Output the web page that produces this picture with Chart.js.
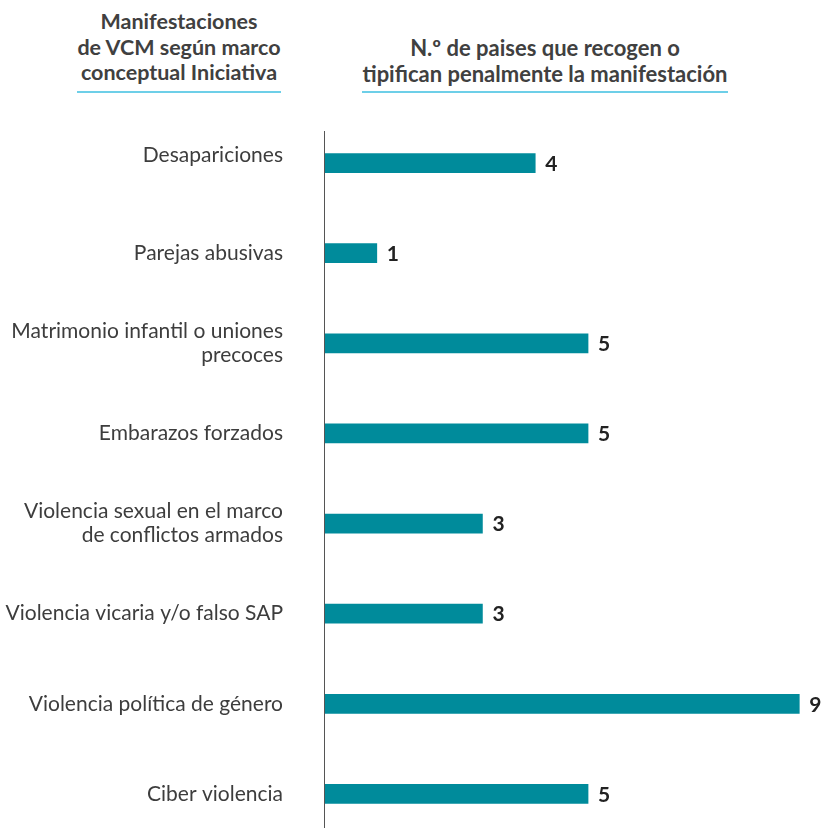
<!DOCTYPE html>
<html>
<head>
<meta charset="utf-8">
<script src="https://cdn.jsdelivr.net/npm/chart.js@4/dist/chart.umd.min.js"></script>
<style>
  html, body { margin: 0; padding: 0; background: #fff; overflow: hidden; }
  body { width: 822px; height: 828px; position: relative; font-family: Lato, "Open Sans", sans-serif; }
  .head { position: absolute; width: 440px; text-align: center; color: #404040; font-weight: bold; font-size: 22px; line-height: 25.5px; }
  .head span { display: inline-block; padding-bottom: 5px; border-bottom: 2px solid #6dcfe8; }
  #chart { position: absolute; left: 0; top: 0; }
</style>
</head>
<body>
<div class="head" style="left:-41px; top:9px; font-size:21.5px;"><span>Manifestaciones<br>de VCM según marco<br>conceptual Iniciativa</span></div>
<div class="head" style="left:325px; top:35px;"><span>N.º de paises que recogen o<br>tipifican penalmente la manifestación</span></div>
<canvas id="chart" width="822" height="888"></canvas>
<script>
// categorías (cada elemento = líneas de la etiqueta)
const CATEGORIES = [
  ['Desapariciones'],
  ['Parejas abusivas'],
  ['Matrimonio infantil o uniones', 'precoces'],
  ['Embarazos forzados'],
  ['Violencia sexual en el marco', 'de conflictos armados'],
  ['Violencia vicaria y/o falso SAP'],
  ['Violencia política de género'],
  ['Ciber violencia']
];

// n.º de países
const COUNTRIES = [4, 1, 5, 5, 3, 3, 9, 5];

const BAR_COLOR = '#008b9b';

// números al final de cada barra
const valueLabels = {
  id: 'valueLabels',
  afterDatasetsDraw(chart) {
    const ctx = chart.ctx;
    const meta = chart.getDatasetMeta(0);
    ctx.save();
    ctx.font = 'bold 21px Lato';
    ctx.fillStyle = '#222';
    ctx.textAlign = 'left';
    ctx.textBaseline = 'middle';
    meta.data.forEach((bar, i) => {
      ctx.fillText(String(COUNTRIES[i]), bar.x + 10, bar.y + 1);
    });
    ctx.restore();
  }
};

// eje vertical (empieza un poco por debajo del borde superior)
const axisLine = {
  id: 'axisLine',
  afterDatasetsDraw(chart) {
    const ctx = chart.ctx;
    const x = Math.round(chart.scales.x.getPixelForValue(0)) + 0.5;
    ctx.save();
    ctx.strokeStyle = '#555';
    ctx.lineWidth = 1;
    ctx.beginPath();
    ctx.moveTo(x, chart.chartArea.top + 13);
    ctx.lineTo(x, chart.chartArea.bottom);
    ctx.stroke();
    ctx.restore();
  }
};

new Chart(document.getElementById('chart').getContext('2d'), {
  type: 'bar',
  data: {
    labels: CATEGORIES,
    datasets: [{
      data: COUNTRIES,
      backgroundColor: BAR_COLOR,
      borderWidth: 0,
      barThickness: 19
    }]
  },
  options: {
    indexAxis: 'y',
    responsive: false,
    animation: false,
    layout: { padding: { top: 118, bottom: 10, left: 0, right: 0 } },
    plugins: {
      legend: { display: false },
      tooltip: { enabled: false }
    },
    scales: {
      x: {
        display: false,
        min: 0,
        max: 9.43
      },
      y: {
        grid: { display: false },
        border: { display: false },
        afterFit: (scale) => { scale.width = 324; },
        ticks: {
          padding: 33,
          color: '#3d3d3d',
          callback: function (value, index) {
            const lines = CATEGORIES[index];
            // en el original la primera etiqueta queda algo por encima de su barra
            if (index === 0) return [lines[0], ''];
            return lines.length > 1 ? lines : lines[0];
          },
          font: function (context) {
            return {
              family: 'Lato',
              size: 21,
              lineHeight: context.index === 0 ? 16 / 21 : 24 / 21
            };
          }
        }
      }
    }
  },
  plugins: [valueLabels, axisLine]
});
</script>
</body>
</html>
